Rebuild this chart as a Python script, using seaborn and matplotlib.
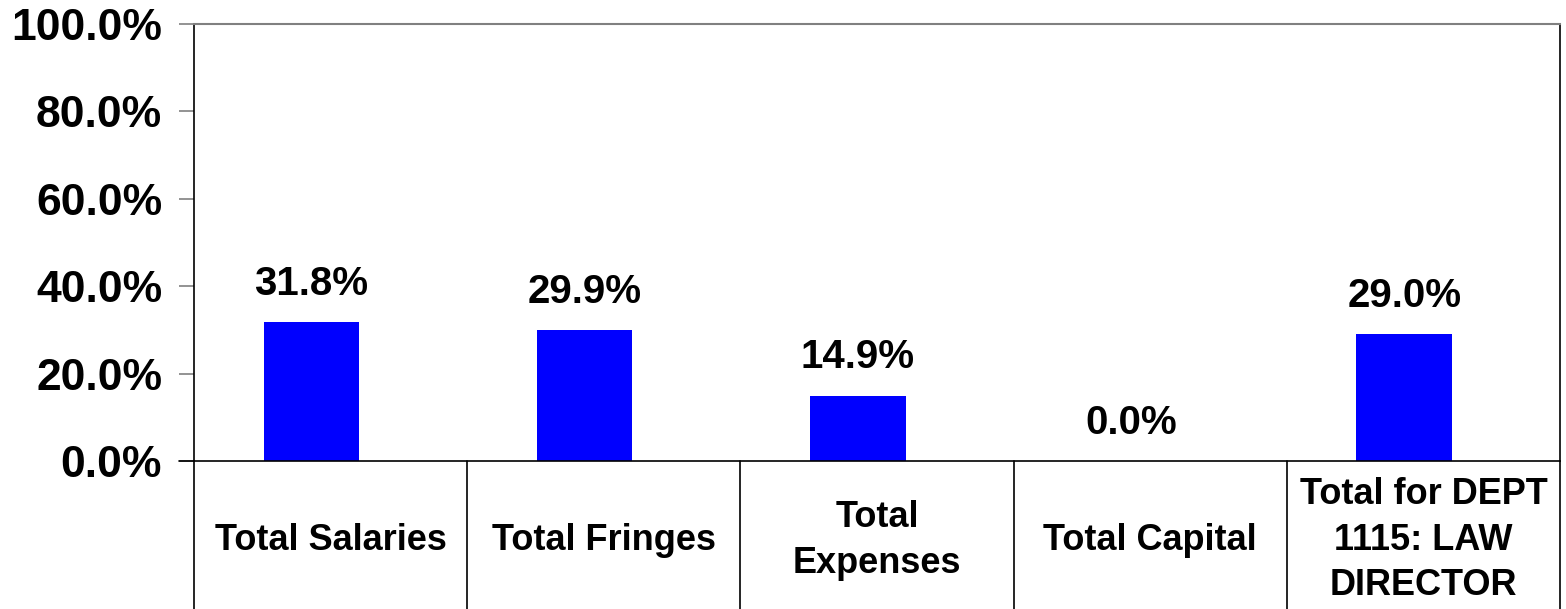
import matplotlib
matplotlib.use("Agg")
import matplotlib.pyplot as plt
import matplotlib.transforms as mtransforms
import seaborn as sns
import pandas as pd

categories = ["Total Salaries", "Total Fringes", "Total\nExpenses",
              "Total Capital", "Total for DEPT\n1115: LAW\nDIRECTOR"]
percent_values = [31.8, 29.9, 14.9, 0.0, 29.0]
y_ticks = [0, 20, 40, 60, 80, 100]
y_tick_labels = ["0.0%", "20.0%", "40.0%", "60.0%", "80.0%", "100.0%"]

sns.set_theme(style="white")
plt.rcParams["font.family"] = ["Liberation Sans", "DejaVu Sans"]
plt.rcParams["font.weight"] = "bold"
plt.rcParams["text.color"] = "black"
plt.rcParams["xtick.labelcolor"] = "black"
plt.rcParams["ytick.labelcolor"] = "black"

df = pd.DataFrame({"category": categories, "value": percent_values})

fig = plt.figure(figsize=(15.66, 6.09), dpi=100)
ax = fig.add_axes([194 / 1566, 1 - 461 / 609, (1560 - 194) / 1566, (461 - 24) / 609])

sns.barplot(data=df, x="category", y="value", color="#0000FF", saturation=1,
            width=0.35, ax=ax, edgecolor="none")

# Bars sit slightly left of the centre of each category cell
shift = 0.07
n = len(categories)
ax.set_ylim(0, 100)
ax.set_xlim(-0.5 + shift, n - 0.5 + shift)
ax.set_yticks(y_ticks)
ax.set_yticklabels(y_tick_labels, fontsize=32, fontweight="bold", color="black")
ax.tick_params(axis="y", length=11, width=1.2, color="#808080", pad=12, left=True)
ax.set_xlabel("")
ax.set_ylabel("")

# Category labels sit centred in the table cells below the axis
ax.set_xticks([i + shift for i in range(n)])
ax.set_xticklabels(categories, fontsize=26, fontweight="bold", linespacing=1.4,
                   color="black")
ax.tick_params(axis="x", length=0, pad=57)
for lbl in ax.get_xticklabels():
    lbl.set_verticalalignment("center")
    lbl.set_horizontalalignment("center")

# Value labels above each bar
ax.bar_label(ax.containers[0], labels=[f"{v:.1f}%" for v in percent_values],
             fontsize=29, fontweight="bold", padding=14, color="black")

for side in ["left", "bottom", "right"]:
    ax.spines[side].set_color("black")
    ax.spines[side].set_linewidth(1.2)
ax.spines["top"].set_color("#808080")
ax.spines["top"].set_linewidth(1.5)

# Table grid beneath the plot area
trans = mtransforms.blended_transform_factory(ax.transData, ax.transAxes)
bottom_frac = -461 / (461 - 24)
for i in range(n + 1):
    xpos = i - 0.5 + shift
    ax.plot([xpos, xpos], [0, bottom_frac], transform=trans, color="black",
            lw=1.2, clip_on=False)
# Short tick extension of the baseline to the left
ax.plot([-15 / 1366, 0], [0, 0], transform=ax.transAxes, color="black",
        lw=1.2, clip_on=False)

fig.savefig("out.png", dpi=100)
